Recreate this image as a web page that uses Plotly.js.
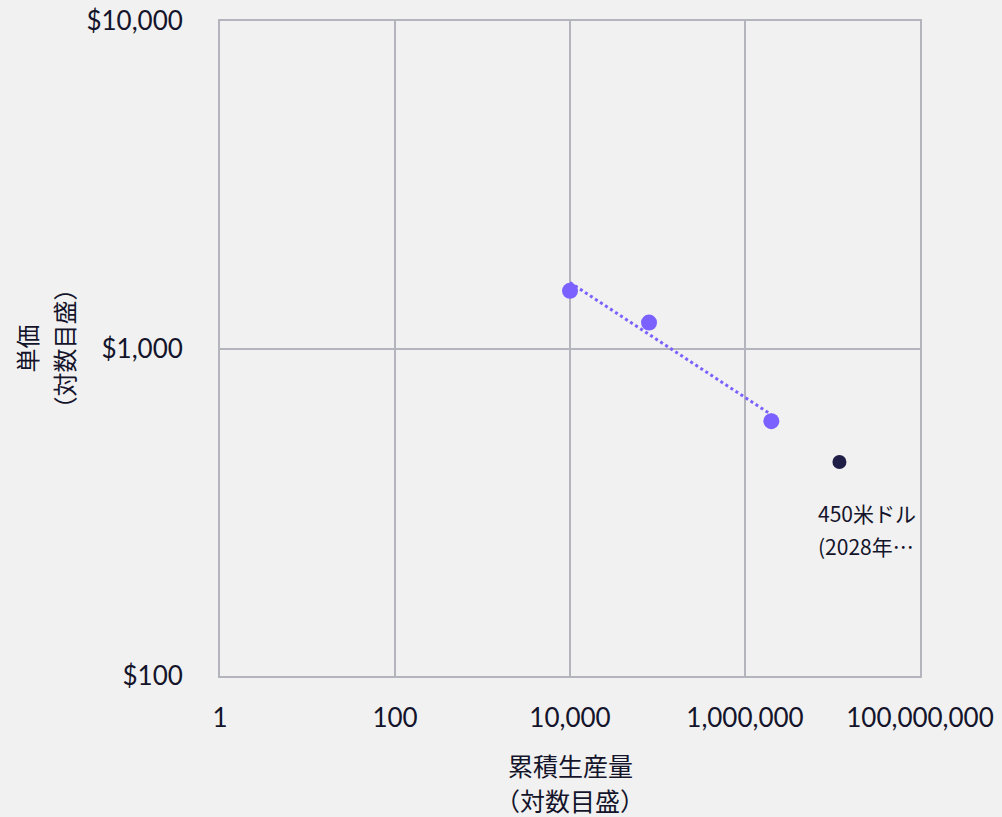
<!DOCTYPE html>
<html>
<head>
<meta charset="utf-8">
<script src="https://cdn.plot.ly/plotly-3.0.1.min.js"></script>
<style>html,body{margin:0;padding:0;background:#f1f1f1;}#chart{width:1002px;height:817px;}</style>
</head>
<body>
<div id="chart"></div>
<script>
const histX = [10000, 80000, 2000000];
const histY = [1500, 1200, 600];
const trendX = [10000, 2000000];
const trendY = [1590, 628];
const forecastX = [12000000];
const forecastY = [450];
const forecastLabelLines = ["450米ドル", "(2028年…"];
const xTickVals = [1, 100, 10000, 1000000, 100000000];
const xTickText = ["1", "100", "10,000", "1,000,000", "100,000,000"];
const yTickVals = [100, 1000, 10000];
const yTickText = ["$100", "$1,000", "$10,000"];
const xTitleLines = ["累積生産量", "（対数目盛）"];
const yTitleLines = ["単価", "（対数目盛）"];

const FONT = "Lato, 'Noto Sans CJK JP', sans-serif";
const CJK = "'Noto Sans CJK JP', sans-serif";
const purple = "#7b61ff";
const dark = "#1e1e46";
const grid = "#b4b4bc";
const txt = "#14142b";

const traces = [
  {x: trendX, y: trendY, mode: "lines", type: "scatter",
   line: {color: purple, width: 3, dash: "dot"}, hoverinfo: "skip"},
  {x: histX, y: histY, mode: "markers", type: "scatter",
   marker: {color: purple, size: 16}},
  {x: forecastX, y: forecastY, mode: "markers", type: "scatter",
   marker: {color: dark, size: 14}}
];

// plot area: 220..920 px horizontally, 21..676 px vertically
const PW = 700, PH = 655;
const annotations = [];
// forecast label, one annotation per line for spacing control
forecastLabelLines.forEach((t, i) => {
  annotations.push({
    x: Math.log10(forecastX[0]), y: Math.log10(forecastY[0]),
    xref: "x", yref: "y", text: t, showarrow: false,
    xanchor: "left", yanchor: "middle", align: "left",
    xshift: -23, yshift: -51 - 33 * i,
    font: {family: CJK, size: 21, color: txt}
  });
});
// x title
xTitleLines.forEach((t, i) => {
  annotations.push({
    x: 0.5, y: -(89 + 35 * i) / PH, xref: "paper", yref: "paper",
    text: t, showarrow: false, xanchor: "center", yanchor: "middle",
    font: {family: CJK, size: 25, color: txt}
  });
});
// y title (rotated)
yTitleLines.forEach((t, i) => {
  annotations.push({
    x: (26 + 37 * i - 220) / PW, y: 0.5, xref: "paper", yref: "paper",
    text: t, showarrow: false, xanchor: "center", yanchor: "middle",
    textangle: -90,
    font: {family: CJK, size: 24, color: txt}
  });
});

const layout = {
  width: 1002, height: 817,
  margin: {l: 220, r: 82, t: 21, b: 141},
  paper_bgcolor: "#f1f1f1", plot_bgcolor: "#f1f1f1",
  showlegend: false,
  font: {family: FONT, color: txt, size: 22},
  xaxis: {
    type: "log", range: [0, 8],
    tickvals: xTickVals, ticktext: xTickText,
    showgrid: true, gridcolor: grid, gridwidth: 2,
    showline: true, linecolor: grid, linewidth: 2, mirror: true,
    zeroline: false, ticks: "", ticklabelstandoff: 18,
    tickfont: {family: FONT, size: 26, color: txt}
  },
  yaxis: {
    type: "log", range: [2, 4],
    tickvals: yTickVals, ticktext: yTickText,
    showgrid: true, gridcolor: grid, gridwidth: 2,
    showline: true, linecolor: grid, linewidth: 2, mirror: true,
    zeroline: false, ticks: "", ticklabelstandoff: 30,
    tickfont: {family: FONT, size: 26, color: txt}
  },
  annotations: annotations
};

Plotly.newPlot("chart", traces, layout, {displayModeBar: false});
</script>
</body>
</html>
